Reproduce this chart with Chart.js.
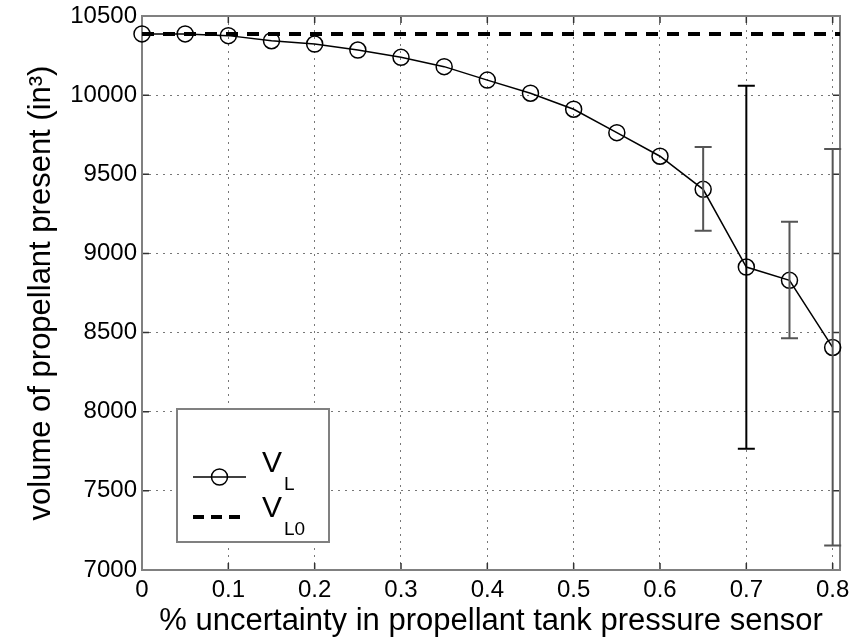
<!DOCTYPE html>
<html>
<head>
<meta charset="utf-8">
<script src="https://cdn.jsdelivr.net/npm/chart.js@4/dist/chart.umd.min.js"></script>
<style>
  body { margin: 0; background: #fff; }
</style>
</head>
<body>
<canvas id="c" width="851" height="637"></canvas>
<script>
// data
var uncertainty = [0, 0.05, 0.1, 0.15, 0.2, 0.25, 0.3, 0.35, 0.4, 0.45, 0.5, 0.55, 0.6, 0.65, 0.7, 0.75, 0.8];
var volumeVL = [10387, 10387, 10376, 10344, 10323, 10285, 10239, 10180, 10095, 10012, 9911, 9763, 9614, 9405, 8914, 8830, 8406];
var volumeVL0 = 10387;
var errX = [0.65, 0.7, 0.75, 0.8];
var errLow = [9144, 7766, 8464, 7155];
var errHigh = [9672, 10060, 9200, 9660];
var xMin = 0, xMax = 0.8085;
var yMin = 7000, yMax = 10500;

var fontFam = "'Liberation Sans', Arial, Helvetica, sans-serif";

var vlPoints = [];
for (var i = 0; i < uncertainty.length; i++) vlPoints.push({x: uncertainty[i], y: volumeVL[i]});

// error bars, drawn through the scales
var errorBars = {
  id: 'errorBars',
  afterDatasetsDraw: function(chart) {
    var ctx = chart.ctx, xs = chart.scales.x, ys = chart.scales.y;
    ctx.save();
    for (var i = 0; i < errX.length; i++) {
      var px = xs.getPixelForValue(errX[i]);
      var top = ys.getPixelForValue(errHigh[i]);
      var bot = ys.getPixelForValue(errLow[i]);
      ctx.strokeStyle = errX[i] == 0.7 ? '#000' : '#555';
      ctx.lineWidth = 2;
      ctx.beginPath();
      ctx.moveTo(px, top); ctx.lineTo(px, bot);
      ctx.moveTo(px - 8.5, top); ctx.lineTo(px + 8.5, top);
      ctx.moveTo(px - 8.5, bot); ctx.lineTo(px + 8.5, bot);
      ctx.stroke();
    }
    ctx.restore();
  }
};

// matlab style box with inward ticks
var axisBox = {
  id: 'axisBox',
  beforeDatasetsDraw: function(chart) {
    var ctx = chart.ctx, a = chart.chartArea, xs = chart.scales.x, ys = chart.scales.y;
    ctx.save();
    ctx.strokeStyle = '#333';
    ctx.lineWidth = 1.5;
    ctx.beginPath();
    xs.ticks.forEach(function(t) {
      var px = xs.getPixelForValue(t.value);
      ctx.moveTo(px, a.bottom); ctx.lineTo(px, a.bottom - 7);
      ctx.moveTo(px, a.top); ctx.lineTo(px, a.top + 7);
    });
    ys.ticks.forEach(function(t) {
      var py = ys.getPixelForValue(t.value);
      ctx.moveTo(a.left, py); ctx.lineTo(a.left + 7, py);
      ctx.moveTo(a.right, py); ctx.lineTo(a.right - 7, py);
    });
    ctx.stroke();
    ctx.strokeStyle = '#808080';
    ctx.lineWidth = 2;
    ctx.strokeRect(a.left, a.top, a.right - a.left, a.bottom - a.top);
    ctx.restore();
  }
};

// legend with subscripts
var legendBox = {
  id: 'legendBox',
  afterDraw: function(chart) {
    var ctx = chart.ctx;
    ctx.save();
    ctx.fillStyle = '#fff';
    ctx.fillRect(177, 409, 152, 133);
    ctx.strokeStyle = '#808080';
    ctx.lineWidth = 2;
    ctx.strokeRect(177, 409, 152, 133);

    ctx.strokeStyle = '#000';
    ctx.lineWidth = 1.5;
    ctx.beginPath();
    ctx.moveTo(193, 477); ctx.lineTo(246, 477);
    ctx.stroke();
    ctx.beginPath();
    ctx.arc(219.5, 477, 8, 0, Math.PI * 2);
    ctx.stroke();

    ctx.lineWidth = 4;
    ctx.setLineDash([11, 7]);
    ctx.beginPath();
    ctx.moveTo(193, 517); ctx.lineTo(240, 517);
    ctx.stroke();
    ctx.setLineDash([]);

    ctx.fillStyle = '#000';
    ctx.textBaseline = 'alphabetic';
    ctx.font = '30px ' + fontFam;
    ctx.fillText('V', 262, 472);
    ctx.fillText('V', 262, 517);
    ctx.font = '19px ' + fontFam;
    ctx.fillText('L', 284, 490);
    ctx.fillText('L0', 284, 535);
    ctx.restore();
  }
};

new Chart(document.getElementById('c'), {
  type: 'scatter',
  data: {
    datasets: [
      {
        label: 'VL0',
        data: [{x: xMin, y: volumeVL0}, {x: xMax, y: volumeVL0}],
        showLine: true,
        borderColor: '#000',
        borderWidth: 4,
        borderDash: [12, 9],
        pointRadius: 0
      },
      {
        label: 'VL',
        data: vlPoints,
        showLine: true,
        borderColor: '#000',
        borderWidth: 1.5,
        pointRadius: 8,
        pointBorderWidth: 1.5,
        pointBorderColor: '#000',
        pointBackgroundColor: 'rgba(0,0,0,0)',
        clip: false
      }
    ]
  },
  options: {
    responsive: false,
    animation: false,
    layout: { padding: { top: 16, right: 11, left: 0, bottom: 0 } },
    plugins: { legend: { display: false }, tooltip: { enabled: false } },
    scales: {
      x: {
        type: 'linear',
        min: xMin,
        max: xMax,
        afterFit: function(s) { s.height = 67; s.paddingLeft = 0; s.paddingRight = 0; },
        ticks: {
          stepSize: 0.1,
          includeBounds: false,
          padding: 6,
          color: '#000',
          font: { family: fontFam, size: 24 },
          callback: function(v) { return String(Math.round(v * 10) / 10); }
        },
        grid: { color: '#777', lineWidth: 1, drawTicks: false },
        border: { display: false, dash: [2, 5] },
        title: {
          display: true,
          text: '% uncertainty in propellant tank pressure sensor',
          color: '#000',
          font: { family: fontFam, size: 31, lineHeight: 1 },
          padding: { top: 0, bottom: 0 }
        }
      },
      y: {
        min: yMin,
        max: yMax,
        afterFit: function(s) { s.width = 142; s.paddingTop = 0; s.paddingBottom = 0; },
        ticks: {
          stepSize: 500,
          padding: 5,
          color: '#000',
          font: { family: fontFam, size: 24 },
          callback: function(v) { return String(v); }
        },
        grid: { color: '#777', lineWidth: 1, drawTicks: false },
        border: { display: false, dash: [2, 5] },
        title: {
          display: true,
          text: 'volume of propellant present (in³)',
          color: '#000',
          font: { family: fontFam, size: 31, lineHeight: 1 },
          padding: { top: 26, bottom: 0 }
        }
      }
    }
  },
  plugins: [axisBox, errorBars, legendBox]
});
</script>
</body>
</html>
